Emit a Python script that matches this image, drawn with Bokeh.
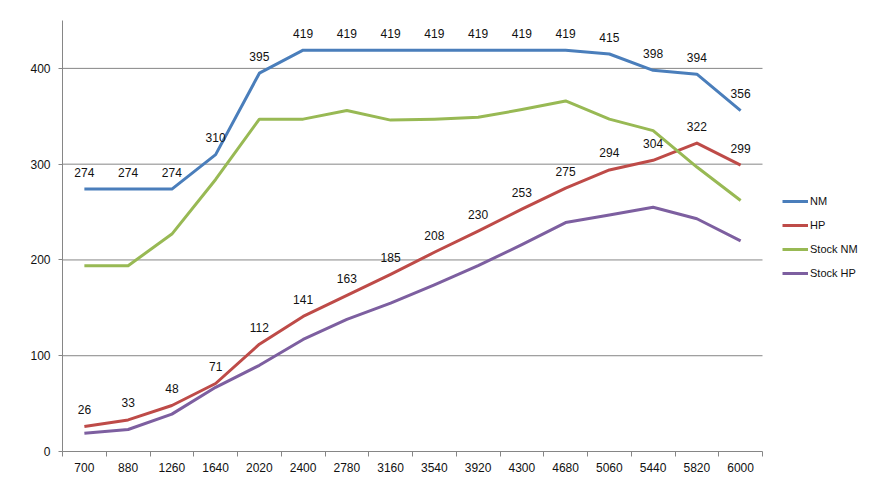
from bokeh.plotting import figure
from bokeh.models import ColumnDataSource, FixedTicker, Legend, LegendItem, Range1d
from bokeh.core.properties import value
from bokeh.embed import file_html
from bokeh.resources import INLINE

rpm = ["700", "880", "1260", "1640", "2020", "2400", "2780", "3160",
       "3540", "3920", "4300", "4680", "5060", "5440", "5820", "6000"]
nm = [274, 274, 274, 310, 395, 419, 419, 419, 419, 419, 419, 419, 415, 398, 394, 356]
hp = [26, 33, 48, 71, 112, 141, 163, 185, 208, 230, 253, 275, 294, 304, 322, 299]
stock_nm = [194, 194, 227, 284, 347, 347, 356, 346, 347, 349, 357, 366, 347, 335, 297, 262]
stock_hp = [19, 23, 39, 67, 90, 117, 138, 155, 174, 194, 216, 239, 247, 255, 243, 220]
y_ticks = [0, 100, 200, 300, 400]

FONT = "Liberation Sans"
GREY = "#868686"
n = len(rpm)

xs = [i + 0.5 for i in range(n)]
src = ColumnDataSource(dict(x=xs, nm=nm, hp=hp, stock_nm=stock_nm, stock_hp=stock_hp,
                            nm_txt=[str(v) for v in nm], hp_txt=[str(v) for v in hp]))

# plot area of 700px holds the categories, the rest of the frame is room for the legend
p = figure(frame_width=800, frame_height=431, output_backend="svg", toolbar_location=None,
           x_range=Range1d(0, n * 800 / 700), y_range=Range1d(0, 450),
           min_border_left=62, min_border_right=0, min_border_top=20,
           min_border_bottom=18)
p.outline_line_color = None
p.xgrid.grid_line_color = None
p.ygrid.grid_line_color = None

p.segment(x0=0, x1=n, y0=y_ticks[1:], y1=y_ticks[1:], line_color=GREY, line_width=1)

series = [("NM", "nm", "#4A7EBB"), ("HP", "hp", "#BE4B48"),
          ("Stock NM", "stock_nm", "#98B954"), ("Stock HP", "stock_hp", "#7D5FA0")]
items = []
for name, col, color in series:
    r = p.line("x", col, source=src, line_color=color, line_width=3, line_join="round")
    items.append(LegendItem(label=name, renderers=[r]))

for col in ["nm", "hp"]:
    p.text("x", col, text=col + "_txt", source=src, y_offset=-17,
           text_align="center", text_baseline="middle", text_font=value(FONT),
           text_font_size="12px", text_color="#111111")

# x axis: labels at category centers, ticks at boundaries
p.xaxis.ticker = FixedTicker(ticks=xs, minor_ticks=list(range(n + 1)))
p.xaxis.bounds = (0, n)
p.xaxis.major_label_overrides = {x: lab for x, lab in zip(xs, rpm)}
p.xaxis.major_tick_out = 0
p.xaxis.major_tick_in = 0
p.xaxis.minor_tick_out = 5
p.xaxis.minor_tick_in = 0
p.xaxis.minor_tick_line_color = GREY
p.xaxis.major_label_standoff = 6

p.yaxis.ticker = FixedTicker(ticks=y_ticks)
p.yaxis.major_tick_out = 4
p.yaxis.major_tick_in = 0
p.yaxis.minor_tick_line_color = None
p.yaxis.major_label_standoff = 8

for ax in [p.xaxis, p.yaxis]:
    ax.axis_line_color = GREY
    ax.major_tick_line_color = GREY
    ax.major_label_text_font = FONT
    ax.major_label_text_font_size = "12px"
    ax.major_label_text_color = "#111111"

legend = Legend(items=items, location=(720, 168), border_line_color=None,
                background_fill_alpha=0, padding=0, margin=0, spacing=4,
                glyph_width=26, glyph_height=20, label_height=20, label_standoff=2,
                label_text_font=FONT, label_text_font_size="11px",
                label_text_color="#111111")
p.add_layout(legend, "center")

open("out.html", "w").write(file_html(p, INLINE))
